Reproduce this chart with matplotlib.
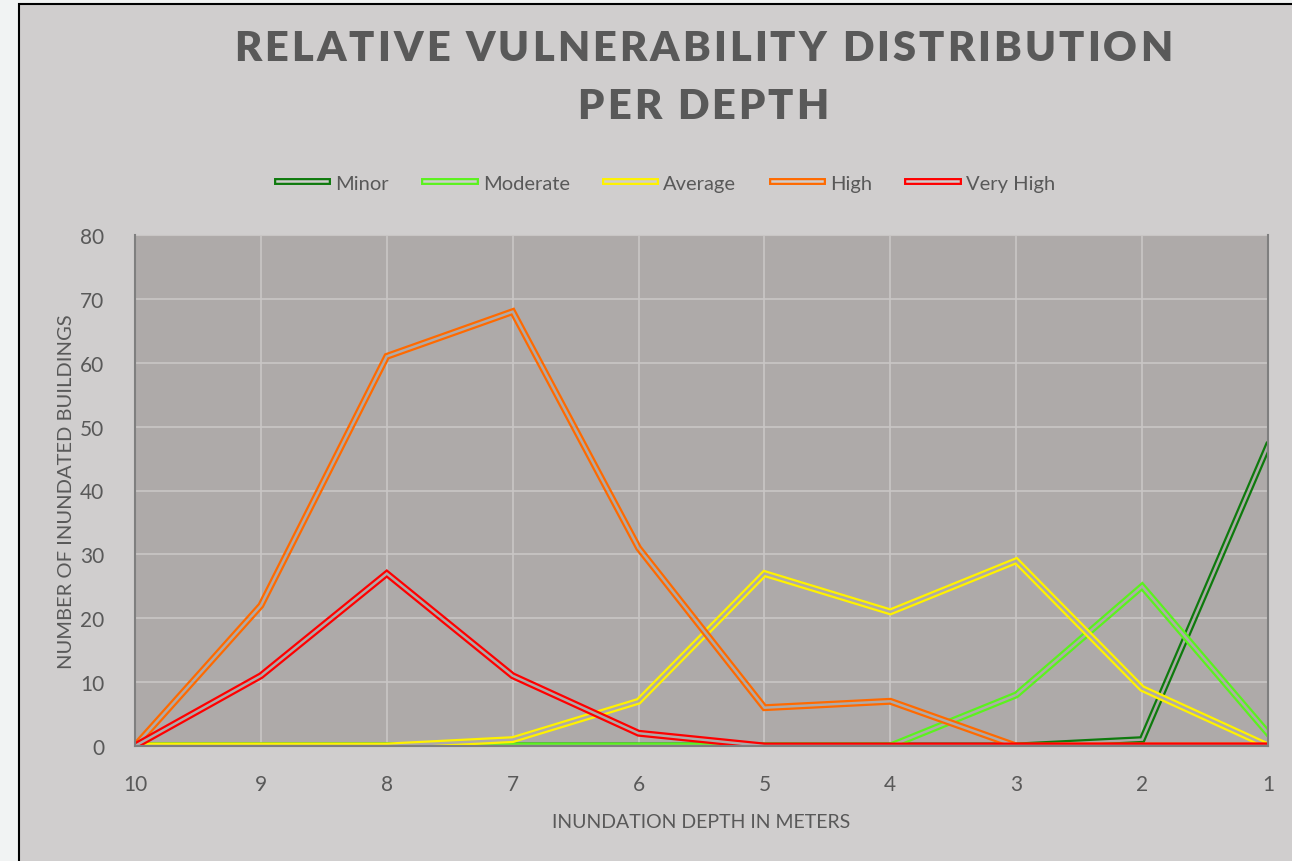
import matplotlib.pyplot as plt
from matplotlib.lines import Line2D
from matplotlib.patches import Rectangle
from matplotlib.legend_handler import HandlerTuple
from matplotlib.font_manager import FontProperties
from matplotlib.textpath import TextToPath

plt.rcParams['font.family'] = ['Lato', 'DejaVu Sans']

# depth categories, left to right
depths = ['10', '9', '8', '7', '6', '5', '4', '3', '2', '1']

minor     = [0, 0, 0, 0, 0, 0, 0, 0, 1, 47]
moderate  = [0, 0, 0, 0, 0, 0, 0, 8, 25, 2]
average   = [0, 0, 0, 1, 7, 27, 21, 29, 9, 0]
high      = [0, 22, 61, 68, 31, 6, 7, 0, 0, 0]
very_high = [0, 11, 27, 11, 2, 0, 0, 0, 0, 0]

series = [
    ('Minor', minor, '#0E7A0D'),
    ('Moderate', moderate, '#5BF21E'),
    ('Average', average, '#FFF200'),
    ('High', high, '#FF6A00'),
    ('Very High', very_high, '#FF0000'),
]

page_bg = '#F1F3F3'
chart_bg = '#D0CECE'
plot_bg = '#AEAAA9'
text_col = '#595959'
DPI = 100


def tracked_text(fig, xc, yc, s, size, tracking_px, weight='bold', **kw):
    """Draw s centred at (xc, yc) in pixels with extra letter spacing."""
    prop = FontProperties(family=plt.rcParams['font.family'], weight=weight, size=size)
    t2p = TextToPath()
    adv = [t2p.get_text_width_height_descent(s[:k], prop, ismath=False)[0] * DPI / 72
           for k in range(len(s) + 1)]
    total = adv[-1] + tracking_px * (len(s) - 1)
    x0 = xc - total / 2
    W, H = fig.get_size_inches() * DPI
    for k, ch in enumerate(s):
        if ch == ' ':
            continue
        fig.text((x0 + adv[k] + k * tracking_px) / W, 1 - yc / H, ch, fontproperties=prop,
                 ha='left', va='center', **kw)


fig = plt.figure(figsize=(12.92, 8.62), dpi=DPI, facecolor=page_bg)
fig.patches.append(Rectangle((19 / 1292, -0.01), 1.0, 1 - 5 / 862 + 0.01,
                             transform=fig.transFigure, facecolor=chart_bg,
                             edgecolor='black', linewidth=1.5, zorder=-10))

ax = fig.add_axes([135 / 1292, 1 - 747 / 862, (1268 - 135) / 1292, (747 - 236) / 862])
ax.set_facecolor(plot_bg)

x = list(range(len(depths)))
outer_w, inner_w = 5.0, 1.8
handles = []
for i, (name, vals, col) in enumerate(series):
    ax.plot(x, vals, color=col, lw=outer_w, solid_joinstyle='miter', zorder=3 + i)
    ax.plot(x, vals, color=plot_bg, lw=inner_w, solid_joinstyle='miter', zorder=3 + i)
    handles.append((Line2D([], [], color=col, lw=outer_w),
                    Line2D([], [], color=chart_bg, lw=inner_w)))

ax.set_xlim(0, len(depths) - 1)
ax.set_ylim(0, 80)
ax.set_xticks(x)
ax.set_xticklabels(depths)
ax.set_yticks(range(0, 81, 10))
ax.grid(True, color='#C9C6C5', lw=1.2)
ax.set_axisbelow(True)
ax.tick_params(length=0, labelsize=15, colors=text_col)
ax.tick_params(axis='x', pad=20)
ax.tick_params(axis='y', pad=22)

for side in ['left', 'bottom', 'right']:
    ax.spines[side].set_color('#7F7F7F')
    ax.spines[side].set_linewidth(1.5)
    ax.spines[side].set_zorder(10)
ax.spines['top'].set_color('#C9C6C5')

ax.set_xlabel('INUNDATION DEPTH IN METERS', fontsize=14, color=text_col, labelpad=14)
ax.set_ylabel('NUMBER OF INUNDATED BUILDINGS', fontsize=14.5, color=text_col, va='center')
ax.yaxis.set_label_coords((67 - 135) / 1133, 0.5)

tracked_text(fig, 703, 49, 'RELATIVE VULNERABILITY DISTRIBUTION', 30, 3.0, weight='heavy', color=text_col)
tracked_text(fig, 703, 107, 'PER DEPTH', 30, 3.0, weight='heavy', color=text_col)

fig.legend(handles, [s[0] for s in series], loc='center', bbox_to_anchor=(666 / 1292, 1 - 184 / 862),
           ncol=5, frameon=False, fontsize=14.5, labelcolor=text_col,
           handler_map={tuple: HandlerTuple(ndivide=1, pad=0)},
           handlelength=2.5, handletextpad=0.4, columnspacing=1.75)

fig.savefig('out.png', dpi=DPI, facecolor=page_bg)
